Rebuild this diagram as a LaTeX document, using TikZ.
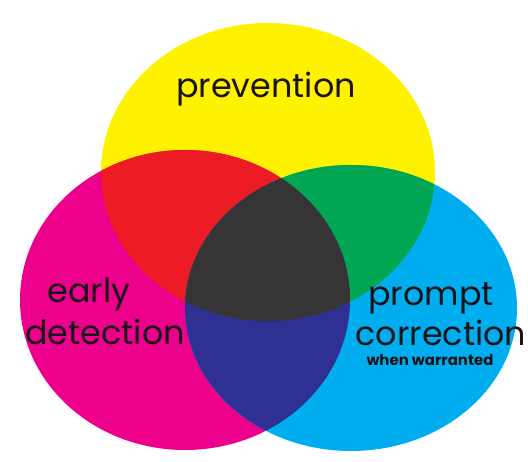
\documentclass[tikz,border=0pt]{standalone}
\usepackage{fontspec}
\setmainfont{Poppins}
\definecolor{ProcYellow}{RGB}{255,242,0}
\definecolor{ProcMagenta}{RGB}{236,0,140}
\definecolor{ProcCyan}{RGB}{0,174,239}
\definecolor{MixRed}{RGB}{237,28,36}
\definecolor{MixGreen}{RGB}{0,166,81}
\definecolor{MixBlue}{RGB}{46,49,146}
\definecolor{MixDark}{RGB}{54,52,53}
\definecolor{LabelInk}{RGB}{26,20,24}

\begin{document}
\begin{tikzpicture}[x=0.02cm,y=-0.02cm,
    label/.style={text=LabelInk, inner sep=0pt, font=\fontsize{19}{22}\selectfont},
    note/.style={text=LabelInk, inner sep=0pt, font=\fontsize{8.5}{10}\selectfont\bfseries}]
    \useasboundingbox (0,0) rectangle (528,462);

    % Circles
    \fill[ProcYellow] (268,172) ellipse (167 and 149);
    \fill[ProcMagenta] (185,300) ellipse (165 and 150);
    \fill[ProcCyan] (351,308) ellipse (166 and 143);

    % Overlaps
    \begin{scope}
        \clip (268,172) ellipse (167 and 149);
        \fill[MixRed] (185,300) ellipse (165 and 150);
        \fill[MixGreen] (351,308) ellipse (166 and 143);
    \end{scope}
    \begin{scope}
        \clip (185,300) ellipse (165 and 150);
        \fill[MixBlue] (351,308) ellipse (166 and 143);
        \clip (351,308) ellipse (166 and 143);
        \fill[MixDark] (268,172) ellipse (167 and 149);
    \end{scope}

    % Labels
    \node[label] (prevention) at (266,89) {prevention};
    \node[label] (early) at (89,294) {early};
    \node[label] (detection) at (105,332) {detection};
    \node[label] (prompt) at (431,298) {prompt};
    \node[label] (correction) at (441,333) {correction};
    \node[note] (warranted) at (430,360) {when warranted};
\end{tikzpicture}
\end{document}
